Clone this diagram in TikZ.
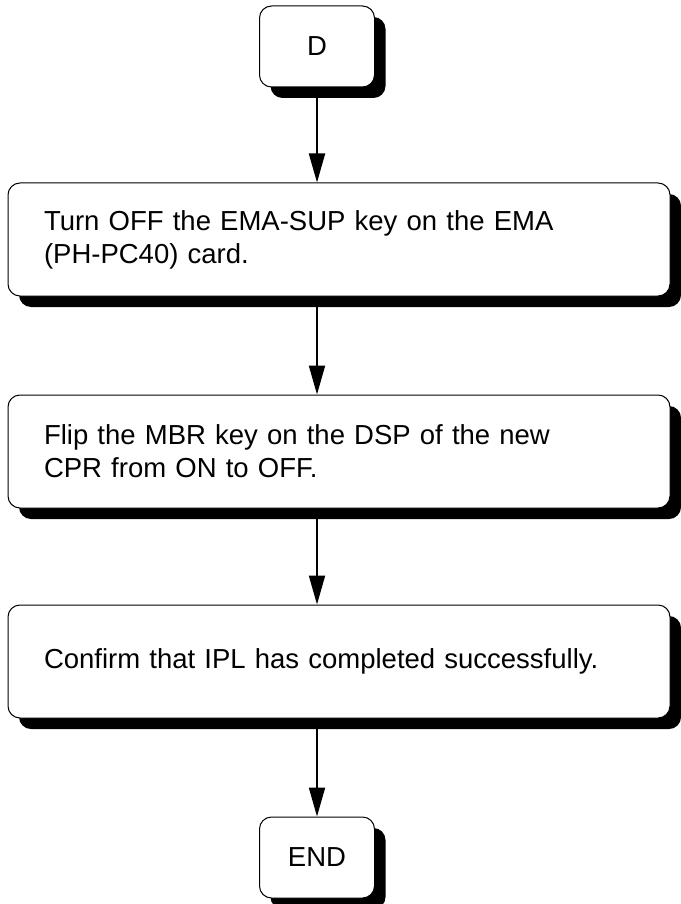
\documentclass[tikz,border=0pt]{standalone}
\usepackage{fontspec}
\setmainfont{Liberation Sans}
\usepackage{tikz}
\usetikzlibrary{positioning,shadows,arrows.meta}

\begin{document}
\begin{tikzpicture}[
    x=1pt, y=1pt,
    font=\fontsize{27.5}{33}\selectfont,
    shadowed/.style={draw, line width=1pt, rounded corners=12pt, fill=white,
        drop shadow={shadow xshift=11pt, shadow yshift=-11pt, fill=black, opacity=1}},
    endbox/.style={shadowed, minimum width=115pt, minimum height=81pt, inner sep=0pt},
    stepbox/.style={shadowed, minimum width=662pt, minimum height=113pt, text width=590pt,
        inner xsep=36pt, align=left},
    arrow/.style={-{Triangle[length=29pt,width=16pt]}, line width=2pt}
]
\useasboundingbox (0,0) rectangle (680,-904);

% Nodes
\node[endbox] (start) at (317,-46.5) {D};
\node[stepbox, below=95pt of start, xshift=22pt] (ema_off) {Turn OFF the EMA-SUP key on the EMA\\(PH-PC40) card.};
\node[stepbox, below=98pt of ema_off] (mbr_flip) {Flip the MBR key on the DSP of the new\\CPR from ON to OFF.};
\node[stepbox, below=96pt of mbr_flip] (ipl_check) {Confirm that IPL has completed successfully.};
\node[endbox, below=98pt of ipl_check, xshift=-22pt] (finish) {END};

% Edges
\draw[arrow] (start) -- (start |- ema_off.north);
\draw[arrow] (start |- ema_off.south) -- (start |- mbr_flip.north);
\draw[arrow] (start |- mbr_flip.south) -- (start |- ipl_check.north);
\draw[arrow] (start |- ipl_check.south) -- (finish);

\end{tikzpicture}
\end{document}
